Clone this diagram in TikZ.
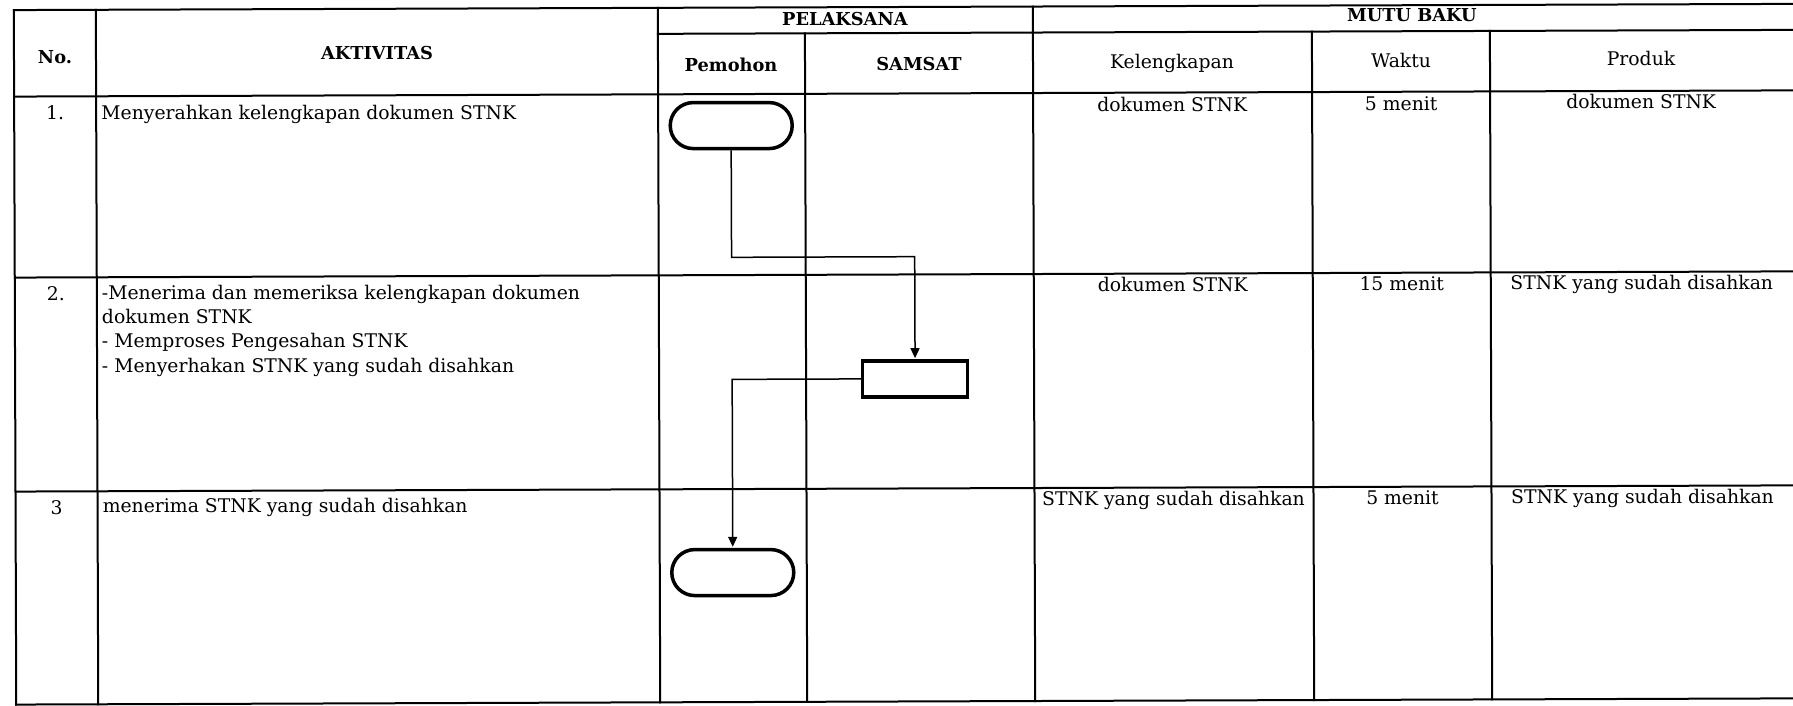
\documentclass[tikz,border=0pt]{standalone}
\usepackage{fontspec}
\setmainfont{DejaVu Serif}
\usetikzlibrary{arrows.meta}
\begin{document}
\begin{tikzpicture}[x=1pt,y=-1pt,
  grid/.style={line width=2pt, line cap=rect},
  hdr/.style={font=\fontsize{17.8}{20}\selectfont\bfseries, anchor=base, inner sep=0pt},
  cell/.style={font=\fontsize{18.8}{24.3}\selectfont, anchor=base, inner sep=0pt},
  act/.style={font=\fontsize{18.8}{24.3}\selectfont, align=left, inner sep=0pt},
  term/.style={draw, line width=3.5pt, rounded corners=23pt, minimum width=122pt, minimum height=46pt, inner sep=0pt},
  proc/.style={draw, line width=3.5pt, minimum width=105pt, minimum height=36pt, inner sep=0pt},
  flow/.style={line width=1.5pt, -{Triangle[length=10pt,width=9pt]}, shorten >=1pt}
]
\useasboundingbox (0,0) rectangle (1793,705);
\fill[white] (0,0) rectangle (1793,705);

\begin{scope}[rotate around={0.2:(896,352)}]
% table grid
\draw[grid] (15,7) -- (1800,7);
\draw[grid] (659,33) -- (1800,33);
\draw[grid] (15,93.5) -- (1800,93.5);
\draw[grid] (15,274.5) -- (1800,274.5);
\draw[grid] (15,488.5) -- (1800,488.5);
\draw[grid] (15,701.5) -- (1800,701.5);
\draw[grid] (15,7) -- (15,701.5);
\draw[grid] (97,7) -- (97,701.5);
\draw[grid] (659,7) -- (659,701.5);
\draw[grid] (806,33) -- (806,701.5);
\draw[grid] (1034,7) -- (1034,701.5);
\draw[grid] (1313,33) -- (1313,701.5);
\draw[grid] (1491,33) -- (1491,701.5);

% headers
\node[hdr] (hno) at (56,61) {No.};
\node[hdr] (hakt) at (378,58) {AKTIVITAS};
\node[hdr] (hpel) at (846,25) {PELAKSANA};
\node[hdr] (hmutu) at (1413,23) {MUTU BAKU};
\node[hdr] (hpem) at (732,71) {Pemohon};
\node[hdr] (hsam) at (920,71) {SAMSAT};
\node[cell] (hkel) at (1173,69) {Kelengkapan};
\node[cell] (hwak) at (1402,69) {Waktu};
\node[cell] (hpro) at (1642,68) {Produk};

% row 1
\node[cell] (n1) at (56,117) {1.};
\node[act, anchor=base west] (a1) at (102,117) {Menyerahkan kelengkapan dokumen STNK};
\node[cell] (k1) at (1173,112) {dokumen STNK};
\node[cell] (w1) at (1402,112) {5 menit};
\node[cell] (p1t) at (1642,111) {dokumen STNK};

% row 2
\node[cell] (n2) at (56,298) {2.};
\node[act, anchor=north west] (a2) at (102,282) {-Menerima dan memeriksa kelengkapan dokumen\\dokumen STNK\\- Memproses Pengesahan STNK\\- Menyerhakan STNK yang sudah disahkan};
\node[cell] (k2) at (1173,292) {dokumen STNK};
\node[cell] (w2) at (1402,292) {15 menit};
\node[cell] (p2t) at (1642,292) {STNK yang sudah disahkan};

% row 3
\node[cell] (n3) at (56,512) {3};
\node[act, anchor=base west] (a3) at (102,510) {menerima STNK yang sudah disahkan};
\node[cell] (k3) at (1173,506) {STNK yang sudah disahkan};
\node[cell] (w3) at (1402,506) {5 menit};
\node[cell] (p3t) at (1642,506) {STNK yang sudah disahkan};

% flow shapes
\node[term] (t1) at (732,125) {};
\node[proc] (b1) at (915,379) {};
\node[term] (t2) at (732,572) {};

\draw[flow] (t1.south) -- ++(0,107) -| (b1.north);
\draw[flow] (b1.west) -| (t2.north);
\end{scope}
\end{tikzpicture}
\end{document}
